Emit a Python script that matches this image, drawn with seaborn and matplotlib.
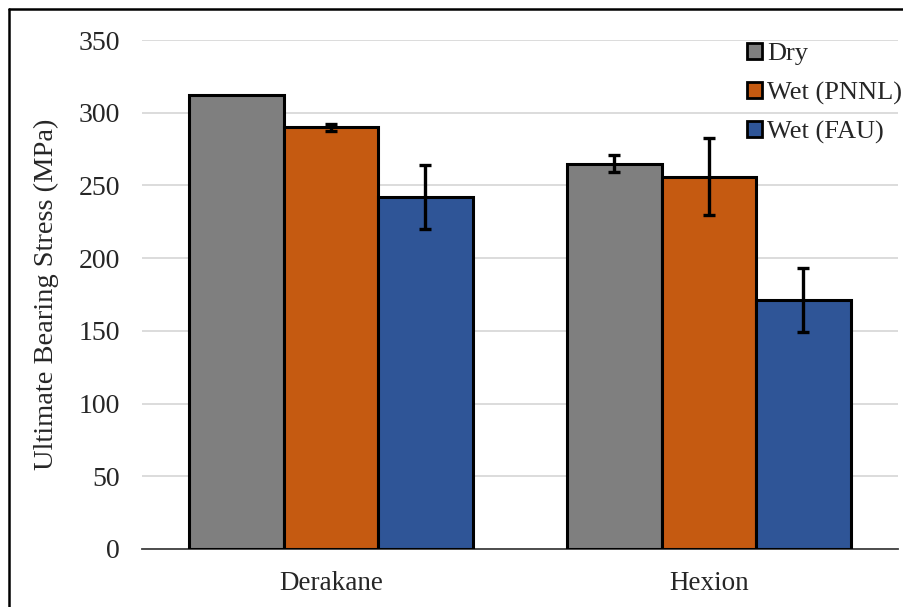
import matplotlib
matplotlib.use("Agg")
import matplotlib.pyplot as plt
from matplotlib.lines import Line2D
import seaborn as sns
import pandas as pd

resins = ["Derakane", "Hexion"]
conditions = ["Dry", "Wet (PNNL)", "Wet (FAU)"]
stress_derakane = [312, 290, 242]
stress_hexion = [265, 256, 171]
err_derakane = [0, 2.5, 22]
err_hexion = [6, 26.5, 22]
colors = ["#7F7F7F", "#C55A11", "#2F5597"]
yticks = [0, 50, 100, 150, 200, 250, 300, 350]

rows = []
for resin, vals, errs in [("Derakane", stress_derakane, err_derakane),
                          ("Hexion", stress_hexion, err_hexion)]:
    for cond, v, e in zip(conditions, vals, errs):
        rows.append({"Resin": resin, "Condition": cond, "Stress": v, "Err": e})
df = pd.DataFrame(rows)

sns.set_theme(style="white")
plt.rcParams["font.family"] = ["Liberation Serif", "DejaVu Serif"]
FS = 20

fig = plt.figure(figsize=(9.04, 6.07), dpi=100)
ax = fig.add_axes([142 / 904, 1 - 549 / 607, (898 - 142) / 904, (549 - 40) / 607])

sns.barplot(data=df, x="Resin", y="Stress", hue="Condition", order=resins,
            hue_order=conditions, palette=colors, width=0.75, gap=0,
            errorbar=None, edgecolor="black", linewidth=2.2, saturation=1,
            ax=ax, zorder=3)

# error bars at the centre of each bar
for patch_group, cond in zip(ax.containers, conditions):
    for bar, resin in zip(patch_group, resins):
        rec = df[(df.Resin == resin) & (df.Condition == cond)].iloc[0]
        if rec.Err > 0:
            xc = bar.get_x() + bar.get_width() / 2
            ax.errorbar(xc, rec.Stress, yerr=rec.Err, fmt="none", ecolor="black",
                        elinewidth=2.4, capsize=4.5, capthick=2.4, zorder=4)

ax.set_ylim(0, 350)
ax.set_xlim(-0.5, 1.5)
ax.set_yticks(yticks)
ax.set_yticklabels([str(t) for t in yticks], fontsize=FS)
ax.tick_params(axis="x", labelsize=FS - 0.5, length=0, pad=16)
ax.tick_params(axis="y", length=0, pad=16)
ax.yaxis.grid(True, color="#D9D9D9", linewidth=1.3, zorder=0)
ax.set_axisbelow(True)
for side in ["top", "right", "left"]:
    ax.spines[side].set_visible(False)
ax.spines["bottom"].set_color("#404040")
ax.spines["bottom"].set_linewidth(1.3)
ax.set_xlabel("")
ax.set_ylabel("Ultimate Bearing Stress (MPa)", fontsize=FS + 0.5, labelpad=14)

handles = [plt.Rectangle((0, 0), 1, 1, facecolor=c, edgecolor="black", linewidth=2)
           for c in colors]
ax.legend(handles, conditions, loc="upper left", frameon=False, fontsize=19,
          bbox_to_anchor=(747 / 904, 1 - 43 / 607), bbox_transform=fig.transFigure,
          handlelength=0.55, handleheight=0.55, handletextpad=0.2,
          labelspacing=0.62, borderpad=0, borderaxespad=0)

# frame edges of the chart area
fig.add_artist(Line2D([9 / 904, 9 / 904], [0, 1 - 9 / 607], color="black", linewidth=1.8,
                      transform=fig.transFigure))
fig.add_artist(Line2D([9 / 904, 1], [1 - 9 / 607, 1 - 9 / 607], color="black", linewidth=1.8,
                      transform=fig.transFigure))

fig.savefig("out.png", dpi=100)
